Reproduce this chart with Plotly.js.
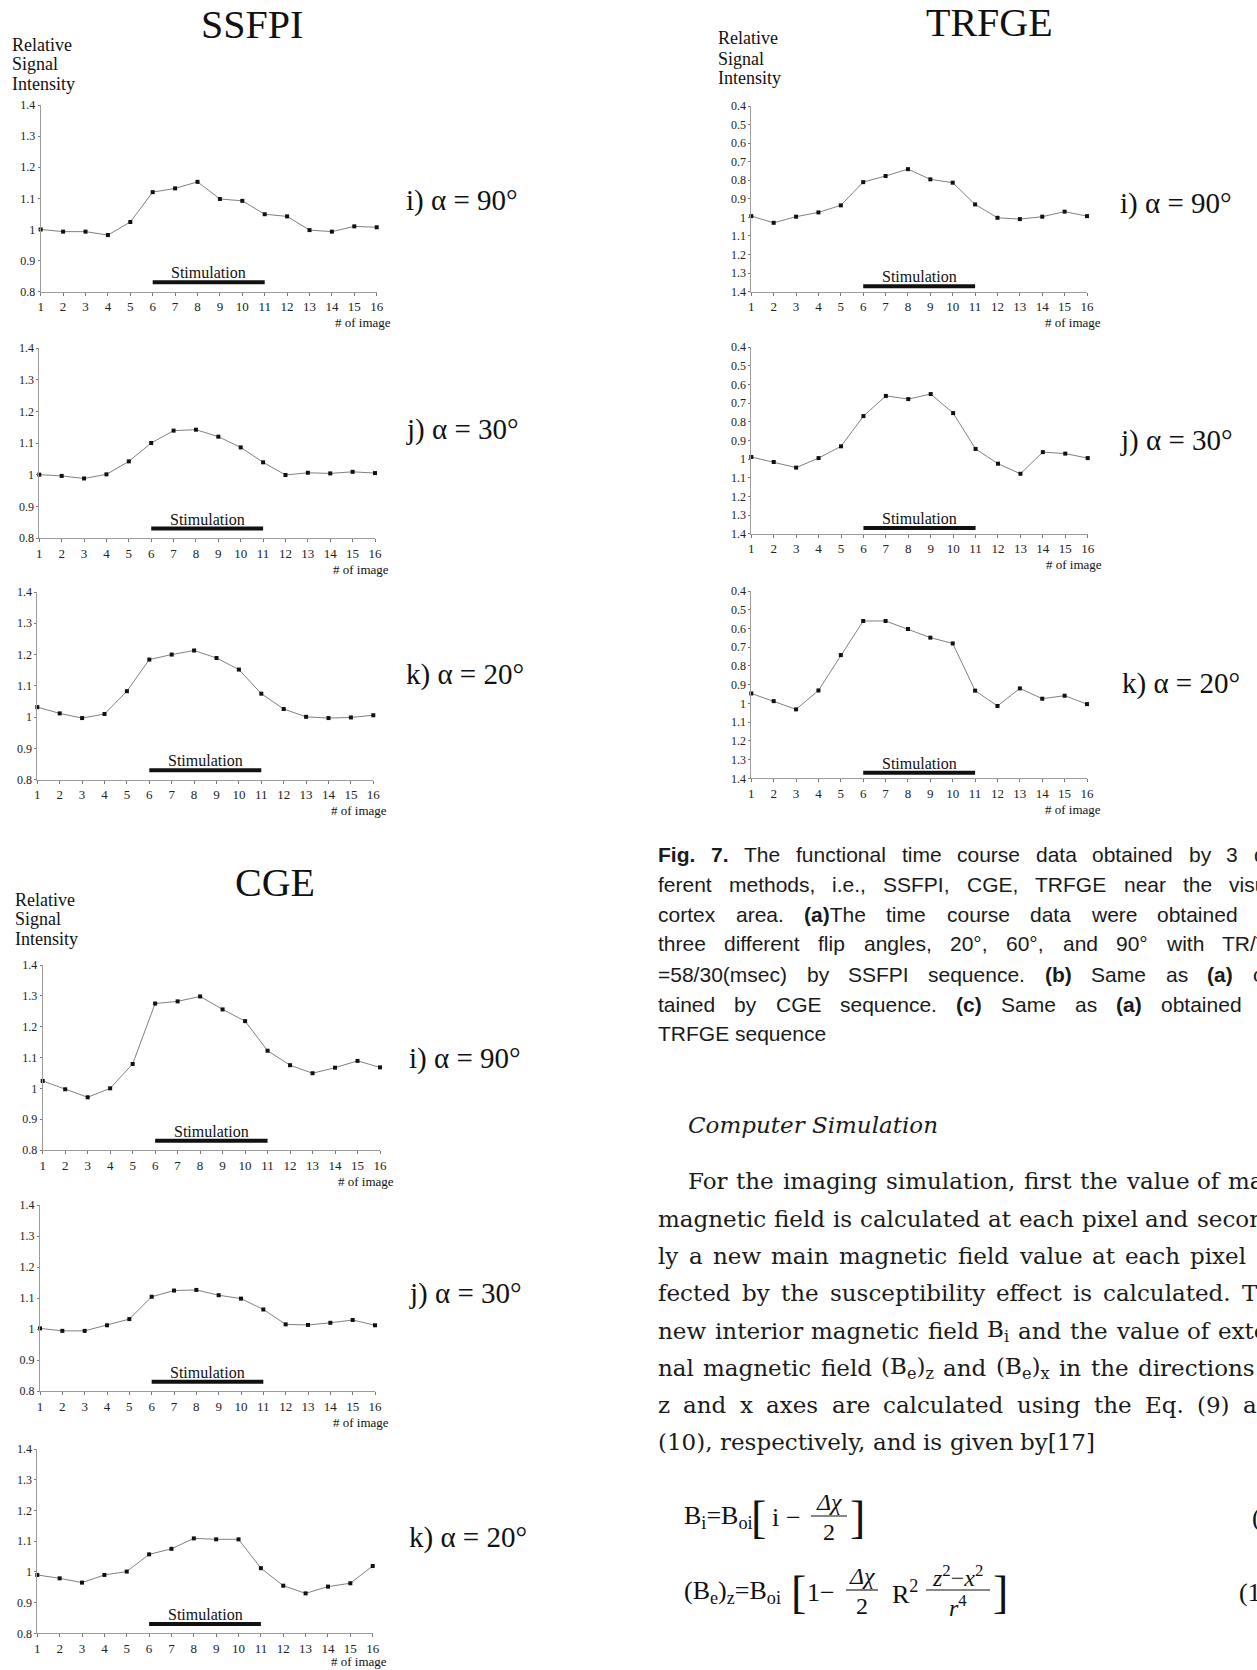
<!DOCTYPE html>
<html><head><meta charset="utf-8">
<script src="https://cdn.plot.ly/plotly-3.0.1.min.js"></script>
<style>html,body{margin:0;padding:0;background:#fff;overflow:hidden}#chart{width:1257px;height:1670px}</style>
</head><body><div id="chart"></div>
<script>
// ---------------- DATA ----------------
const images = [1,2,3,4,5,6,7,8,9,10,11,12,13,14,15,16];
const xTickText = ['1','2','3','4','5','6','7','8','9','10','11','12','13','14','15','16'];
const yTickVals = [0.8,0.9,1,1.1,1.2,1.3,1.4];
const yTickText = ['0.8','0.9','1','1.1','1.2','1.3','1.4'];
const yTickValsTR = [0.4,0.5,0.6,0.7,0.8,0.9,1,1.1,1.2,1.3,1.4];
const yTickTextTR = ['0.4','0.5','0.6','0.7','0.8','0.9','1','1.1','1.2','1.3','1.4'];

const ssfpi90 = [1.0,0.993,0.993,0.982,1.024,1.12,1.132,1.153,1.098,1.092,1.049,1.042,0.998,0.993,1.01,1.007];
const ssfpi30 = [1.0,0.996,0.988,1.001,1.042,1.1,1.139,1.142,1.12,1.086,1.039,0.999,1.006,1.004,1.009,1.005];
const ssfpi20 = [1.032,1.012,0.997,1.01,1.083,1.184,1.2,1.213,1.189,1.152,1.075,1.026,1.001,0.997,0.999,1.006];
const cge90 = [1.024,0.997,0.971,1.0,1.079,1.275,1.282,1.298,1.256,1.218,1.122,1.075,1.049,1.067,1.089,1.068];
const cge30 = [1.002,0.994,0.994,1.012,1.032,1.104,1.124,1.126,1.109,1.098,1.063,1.015,1.013,1.02,1.029,1.012];
const cge20 = [0.99,0.979,0.965,0.99,1.001,1.057,1.075,1.109,1.106,1.106,1.012,0.955,0.93,0.952,0.963,1.019];
const trfge90 = [0.993,1.029,0.996,0.973,0.935,0.81,0.777,0.74,0.795,0.813,0.93,1.002,1.009,0.996,0.969,0.993];
const trfge30 = [0.989,1.016,1.046,0.995,0.932,0.77,0.662,0.679,0.652,0.754,0.946,1.025,1.079,0.963,0.971,0.995];
const trfge20 = [0.947,0.988,1.032,0.931,0.742,0.56,0.56,0.603,0.649,0.68,0.932,1.014,0.92,0.975,0.959,1.004];

const stimRange = [6, 11];
const stimLevel = 0.83;
const stimLevelTR = 1.37;

const methodTitles = ['SSFPI','CGE','TRFGE'];
const axisTitleLines = ['Relative','Signal','Intensity'];
const angleLabels = ['i) α = 90°','j) α = 30°','k) α = 20°'];

const captionLines = [
 '<b>Fig.</b> <b>7.</b> The functional time course data obtained by 3 dif-',
 'ferent methods, i.e., SSFPI, CGE, TRFGE near the visual',
 'cortex area. <b>(a)</b>The time course data were obtained for',
 'three different flip angles, 20°, 60°, and 90° with TR/TE',
 '=58/30(msec) by SSFPI sequence. <b>(b)</b> Same as <b>(a)</b> ob-',
 'tained by CGE sequence. <b>(c)</b> Same as <b>(a)</b> obtained by',
 'TRFGE sequence'
];
const bodyHeading = 'Computer Simulation';
const bodyLines = [
 'For the imaging simulation, first the value of main',
 'magnetic field is calculated at each pixel and second-',
 'ly a new main magnetic field value at each pixel af-',
 'fected by the susceptibility effect is calculated. The',
 'new interior magnetic field B<sub>i</sub> and the value of exter-',
 'nal magnetic field (B<sub>e</sub>)<sub>z</sub> and (B<sub>e</sub>)<sub>x</sub> in the directions of',
 'z and x axes are calculated using the Eq. (9) and',
 '(10), respectively, and is given by[17]'
];

// ---------------- LAYOUT HELPERS ----------------
const W = 1257, H = 1670;
const px = x => x / W, py = y => 1 - y / H;
const SERIF = 'Liberation Serif';
const SANS = 'Liberation Sans';
const BODY = 'DejaVu Serif';
const INK = '#111';

function txt(x, y, text, size, opts) {
  return Object.assign({xref:'paper', yref:'paper', x:px(x), y:py(y), text:text, showarrow:false,
    xanchor:'left', yanchor:'middle', borderpad:0, font:{family:SERIF, size:size, color:INK}}, opts || {});
}

const panels = [
 {ys:ssfpi90, box:[40.7,376.7,105,291.7], rev:false, lab:[405,200], li:0},
 {ys:ssfpi30, box:[39.3,375,348,538], rev:false, lab:[405,429], li:1},
 {ys:ssfpi20, box:[37.3,373.3,592,779.7], rev:false, lab:[405,674], li:2},
 {ys:cge90, box:[42.7,380,965,1150], rev:false, lab:[408,1058], li:0},
 {ys:cge30, box:[40,375,1205,1391], rev:false, lab:[408,1293], li:1},
 {ys:cge20, box:[37.3,372.7,1449,1633.3], rev:false, lab:[408,1537], li:2},
 {ys:trfge90, box:[751.3,1087,106,291.7], rev:true, lab:[1119,203], li:0},
 {ys:trfge30, box:[751.3,1087.7,347,533.7], rev:true, lab:[1119,440], li:1},
 {ys:trfge20, box:[751.3,1087,591,778.3], rev:true, lab:[1121,683], li:2}
];

const layout = {
  width: W, height: H, margin:{l:0,r:0,t:0,b:0,pad:0},
  paper_bgcolor:'#fff', plot_bgcolor:'rgba(0,0,0,0)', showlegend:false,
  annotations: [], shapes: []
};
const traces = [];
const ann = layout.annotations;

panels.forEach((p, i) => {
  const n = i + 1;
  const xk = n === 1 ? 'xaxis' : 'xaxis' + n;
  const yk = n === 1 ? 'yaxis' : 'yaxis' + n;
  const xr = n === 1 ? 'x' : 'x' + n;
  const yr = n === 1 ? 'y' : 'y' + n;
  const [l, r, t, b] = p.box;
  layout[xk] = {
    domain:[px(l), px(r)], range:[1,16], anchor:yr, showgrid:false, zeroline:false,
    showline:true, linecolor:'#9c9c9c', linewidth:1, ticks:'outside', ticklen:3, tickcolor:'#777', tickwidth:1,
    tickmode:'array', tickvals:images, ticktext:xTickText,
    tickfont:{family:SERIF, size:13, color:'#222'}, fixedrange:true
  };
  layout[yk] = {
    domain:[py(b), py(t)], range: p.rev ? [1.4, 0.4] : [0.8, 1.4], anchor:xr, showgrid:false, zeroline:false,
    showline:true, linecolor:'#9c9c9c', linewidth:1, ticks:'outside', ticklen:2, tickcolor:'#777', tickwidth:1,
    tickmode:'array', tickvals: p.rev ? yTickValsTR : yTickVals, ticktext: p.rev ? yTickTextTR : yTickText,
    tickfont:{family:SERIF, size:12, color:'#222'}, fixedrange:true
  };
  const lvl = p.rev ? stimLevelTR : stimLevel;
  traces.push({type:'scatter', mode:'lines', x:stimRange, y:[lvl, lvl], xaxis:xr, yaxis:yr,
    line:{color:'#111', width:4}, cliponaxis:false, hoverinfo:'skip'});
  traces.push({type:'scatter', mode:'lines+markers', x:images, y:p.ys, xaxis:xr, yaxis:yr,
    line:{color:'#808080', width:1}, marker:{symbol:'square', size:4, color:'#111'}, cliponaxis:false});
  ann.push({xref:xr, yref:yr, x:(stimRange[0]+stimRange[1])/2, y:lvl, yanchor:'bottom', xanchor:'center',
    text:'Stimulation', showarrow:false, borderpad:0, font:{family:SERIF, size:16, color:INK}});
  ann.push(txt(r + 15, Math.min(b + 31, H - 9), '# of image', 13, {xanchor:'right'}));
  ann.push(txt(p.lab[0], p.lab[1], angleLabels[p.li], 29));
});

// titles
ann.push(txt(252, 24, methodTitles[0], 40, {xanchor:'center'}));
ann.push(txt(275, 882, methodTitles[1], 40, {xanchor:'center'}));
ann.push(txt(989, 22, methodTitles[2], 40, {xanchor:'center'}));
// "Relative Signal Intensity"
[[10.6,[44.7,63.9,84.2]],[13.8,[900,919,938.5]],[717,[38.4,58.6,77.8]]].forEach(([x, ys]) => {
  ys.forEach((y, k) => ann.push(txt(x, y, axisTitleLines[k], 18)));
});

// ---------------- TEXT BLOCK ----------------
const ctx = document.createElement('canvas').getContext('2d');
function segWidth(word, fam, size) {
  let b = false, it = false, sm = false, w = 0;
  word.split(/(<\/?(?:b|i|sub|sup)>)/).forEach(part => {
    if (!part) return;
    const m = part.match(/^<(\/?)(b|i|sub|sup)>$/);
    if (m) { const on = !m[1]; if (m[2] === 'b') b = on; else if (m[2] === 'i') it = on; else sm = on; return; }
    const s = sm ? size * 0.7 : size;
    ctx.font = (it ? 'italic ' : '') + (b ? 'bold ' : '') + s + 'px "' + fam + '"';
    w += ctx.measureText(part).width;
  });
  return w;
}
function setLine(line, x0, x1, y, fam, size, justify, color) {
  const words = line.split(' ');
  const ws = words.map(w => segWidth(w, fam, size));
  const total = ws.reduce((a, c) => a + c, 0);
  ctx.font = size + 'px "' + fam + '"';
  const sp = ctx.measureText(' ').width;
  let gap = sp;
  if (justify && words.length > 1) gap = Math.max(sp * 0.6, (x1 - x0 - total) / (words.length - 1));
  let x = x0;
  words.forEach((w, k) => {
    if (x < W - 3) ann.push(txt(x, y, w, size, {font:{family:fam, size:size, color:color}}));
    x += ws[k] + gap;
  });
}
const capY = [854, 884, 914, 944, 974, 1004, 1033];
captionLines.forEach((ln, k) => setLine(ln, 657, 1282, capY[k], SANS, 21, k < captionLines.length - 1, '#1a1a1a'));

ann.push(txt(687, 1125, '<i>' + bodyHeading + '</i>', 23, {font:{family:BODY, size:23, color:'#1a1a1a'}}));
const bodyY = [1181, 1219, 1256, 1293, 1331, 1368, 1405, 1442];
bodyLines.forEach((ln, k) => setLine(ln, k === 0 ? 687 : 657, 1285, bodyY[k], BODY, 23, k < bodyLines.length - 1, '#1a1a1a'));

// equations
const EQ = 26, FR = 24;
function frac(cx, cy, num, den, w) {
  ann.push(txt(cx, cy - 14, num, FR, {xanchor:'center'}));
  ann.push(txt(cx, cy + 16, den, FR, {xanchor:'center'}));
  layout.shapes.push({type:'line', xref:'paper', yref:'paper', x0:px(cx - w/2), x1:px(cx + w/2),
    y0:py(cy), y1:py(cy), line:{color:INK, width:1.1}});
}
// Eq (9)
ann.push(txt(683, 1517, 'B<sub>i</sub>=B<sub>oi</sub>', EQ));
ann.push(txt(750, 1517, '[', 46));
ann.push(txt(771, 1517, 'i', EQ));
ann.push(txt(785, 1517, '−', EQ));
frac(829, 1516, '<i>Δχ</i>', '2', 36);
ann.push(txt(849, 1517, ']', 46));
ann.push(txt(1283, 1517, '(9)', EQ, {xanchor:'right'}));
// Eq (10)
ann.push(txt(683, 1592, '(B<sub>e</sub>)<sub>z</sub>=B<sub>oi</sub>', EQ));
ann.push(txt(790, 1592, '[', 46));
ann.push(txt(806, 1592, '1−', EQ));
frac(862, 1590, '<i>Δχ</i>', '2', 32);
ann.push(txt(891, 1592, 'R<sup>2</sup>', EQ));
frac(958, 1590, '<i>z</i><sup>2</sup>−<i>x</i><sup>2</sup>', '<i>r</i><sup>4</sup>', 64);
ann.push(txt(992, 1592, ']', 46));
ann.push(txt(1283, 1592, '(10)', EQ, {xanchor:'right'}));

Plotly.newPlot('chart', traces, layout, {displayModeBar:false, staticPlot:true});
</script>
</body></html>
